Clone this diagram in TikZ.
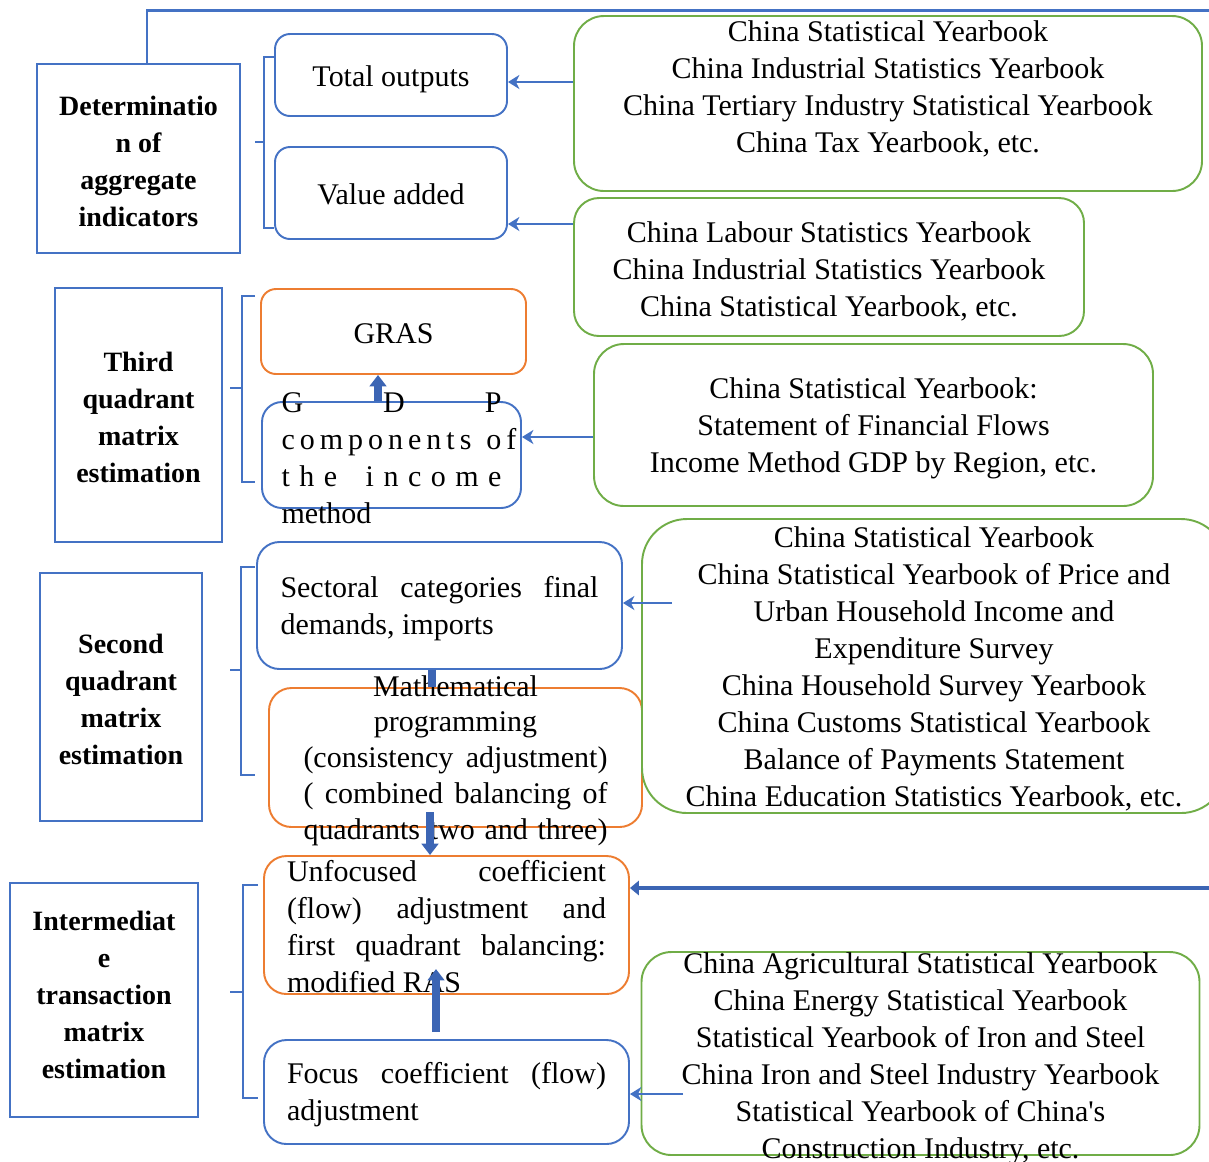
\documentclass[tikz,border=0pt]{standalone}
\usepackage{fontspec}
\setmainfont{Liberation Serif}
\usetikzlibrary{arrows.meta}

\definecolor{stageblue}{HTML}{4472C4}
\definecolor{solverorange}{HTML}{ED7D31}
\definecolor{sourcegreen}{HTML}{70AD47}
\definecolor{flowblue}{HTML}{3C65B4}

\newdimen\pxu \pxu=0.02cm
\newcommand{\bodyfont}{\fontsize{17.07pt}{21.06pt}\selectfont}
\newcommand{\mathfont}{\fontsize{17.07pt}{20.4pt}\selectfont}
\newcommand{\stagefont}{\fontsize{15.93pt}{21.06pt}\selectfont\bfseries}
\newcommand{\boxtxt}[3]{\raisebox{#1\pxu}[0pt][0pt]{\parbox[t]{#2\pxu}{#3}}}
\newcommand{\spreadline}[1]{\makebox[\linewidth][s]{#1}}
\hyphenpenalty=10000 \tolerance=9999 \hbadness=10000 \vbadness=10000 \hfuzz=20pt \vfuzz=200pt

\begin{document}
\begin{tikzpicture}[x=0.02cm, y=-0.02cm,
	sized/.style 2 args={minimum width=#1\pxu, minimum height=#2\pxu}]
	\tikzstyle{stage} = [ draw=stageblue, line width=1.4pt, inner sep=0pt, font=\stagefont ];
	\tikzstyle{task} = [ draw=stageblue, line width=1.1pt, rounded corners=0.45cm, inner sep=0pt, font=\bodyfont ];
	\tikzstyle{solver} = [ task, draw=solverorange ];
	\tikzstyle{source} = [ draw=sourcegreen, line width=1.1pt, rounded corners=0.6cm, inner sep=0pt, font=\bodyfont ];
	\tikzstyle{feed} = [ -{Stealth[length=6.5pt, width=8pt, inset=2pt]}, draw=stageblue, line width=1.1pt ];
	\tikzstyle{flow} = [ -{Triangle[length=6.5pt, width=9.5pt]}, draw=flowblue, fill=flowblue, line width=4pt ];
	\tikzstyle{backflow} = [ -{Triangle[length=5pt, width=8pt]}, draw=flowblue, line width=2.8pt ];
	\tikzstyle{brace} = [ draw=stageblue, line width=1.1pt ];

	\useasboundingbox (0,0) rectangle (1209,1161);

	% stages on the left
	\node[stage, sized={203}{189}] (agg) at (138.5,158.5) {\boxtxt{43.5}{195}{\centering Determinatio\\ n of\\ aggregate\\ indicators}};
	\node[stage, sized={167}{254}] (third) at (138.5,415) {\boxtxt{44}{160}{\centering Third\\ quadrant\\ matrix\\ estimation}};
	\node[stage, sized={162}{248}] (second) at (121,697) {\boxtxt{44}{155}{\centering Second\\ quadrant\\ matrix\\ estimation}};
	\node[stage, sized={188}{234}] (inter) at (104,1000) {\boxtxt{70}{180}{\centering Intermediat\\ e\\ transaction\\ matrix\\ estimation}};

	% tasks
	\node[task, rounded corners=0.3cm, sized={232}{82}] (total) at (391,75) {\boxtxt{-11}{220}{\centering Total outputs}};
	\node[task, rounded corners=0.3cm, sized={232}{92}] (value) at (391,193) {\boxtxt{-11}{220}{\centering Value added}};
	\node[solver, rounded corners=0.3cm, sized={265}{85}] (gras) at (393.5,331.5) {\boxtxt{-11.5}{250}{\centering GRAS}};
	\node[task, rounded corners=0.4cm, sized={259}{106}] (gdp) at (391.5,455) {\boxtxt{43}{220}{\spreadline{G D P}\\ \spreadline{c o m p o n e n t s\ \ \ o f}\\ \spreadline{t h e\ \ \ i n c o m e}\\ method}};
	\node[task, sized={365}{127}] (sectoral) at (439.5,605.5) {\boxtxt{8.5}{318}{Sectoral categories final\linebreak demands, imports}};
	\node[solver, font=\mathfont, sized={373}{139}] (math) at (455.5,757.5) {\boxtxt{61.5}{304}{{\centering Mathematical\\ programming\par}(consistency adjustment)\linebreak ( combined balancing of\linebreak quadrants two and three)\parfillskip=0pt\par}};
	\node[solver, sized={365}{138}] (unfocused) at (446.5,925) {\boxtxt{44}{319}{Unfocused coefficient\linebreak (flow) adjustment and\linebreak first quadrant balancing:\linebreak modified RAS}};
	\node[task, sized={365}{104}] (focus) at (446.5,1092) {\boxtxt{9}{319}{Focus coefficient (flow)\linebreak adjustment}};

	% data sources
	\node[source, sized={628}{175}] (src1) at (888,103.5) {\boxtxt{62.5}{610}{\centering China Statistical Yearbook\\ China Industrial Statistics Yearbook\\ China Tertiary Industry Statistical Yearbook\\ China Tax Yearbook, etc.}};
	\node[source, rounded corners=0.5cm, sized={510}{138}] (src2) at (829,267) {\boxtxt{25}{490}{\centering China Labour Statistics Yearbook\\ China Industrial Statistics Yearbook\\ China Statistical Yearbook, etc.}};
	\node[source, sized={559}{162}] (src3) at (873.5,425) {\boxtxt{27}{540}{\centering China Statistical Yearbook:\\ Statement of Financial Flows\\ Income Method GDP by Region, etc.}};
	\node[source, rounded corners=0.9cm, sized={584}{294}] (src4) at (934,666) {\boxtxt{119}{570}{\centering China Statistical Yearbook\\ China Statistical Yearbook of Price and\\ Urban Household Income and\\ Expenditure Survey\\ China Household Survey Yearbook\\ China Customs Statistical Yearbook\\ Balance of Payments Statement\\ China Education Statistics Yearbook, etc.}};
	\node[source, sized={558}{203}] (src5) at (920.5,1053.5) {\boxtxt{80.5}{540}{\centering China Agricultural Statistical Yearbook\\ China Energy Statistical Yearbook\\ Statistical Yearbook of Iron and Steel\\ China Iron and Steel Industry Yearbook\\ Statistical Yearbook of China\textquotesingle s\\ Construction Industry, etc.}};

	% brackets
	\foreach \bt/\bb/\bm/\bx/\bo/\bl in {57/228/142/264/274/255, 296/482/388/242/255/230, 567/775/670/241/255/230, 885/1098/992/243/258/230} {
		\draw[brace] (\bo,\bt) -- (\bx,\bt) -- (\bx,\bb) -- (\bo,\bb);
		\draw[brace] (\bx,\bm) -- (\bl,\bm);
	}

	% sources feeding the tasks
	\coordinate (finalin) at (672,603);
	\coordinate (interin) at (683,1094);
	\draw[feed] (src1.west |- 0,82) -- (total.east |- 0,82);
	\draw[feed] (src2.west |- 0,224) -- (value.east |- 0,224);
	\draw[feed] (src3.west |- 0,437) -- (gdp.east |- 0,437);
	\draw[feed] (finalin) -- (sectoral.east |- finalin);
	\draw[feed] (interin) -- (focus.east |- interin);

	% flow between tasks
	\coordinate (mathout) at (430,812);
	\draw[flow] (gdp.north -| 378,0) -- (gras.south -| 378,0);
	\draw[flow, -] (sectoral.south -| 432,0) -- (math.north -| 432,0);
	\draw[flow] (mathout) -- (unfocused.north -| mathout);
	\draw[flow] (focus.north -| 436,0) ++(0,-7) -- ++(0,-63);

	% loop back
	\coordinate (loopend) at (1230,10);
	\coordinate (loopback) at (1230,888);
	\draw[stageblue, line width=1.7pt] (agg.north -| 147,0) |- (loopend);
	\draw[backflow] (loopback) -- (unfocused.east |- loopback);
\end{tikzpicture}
\end{document}
